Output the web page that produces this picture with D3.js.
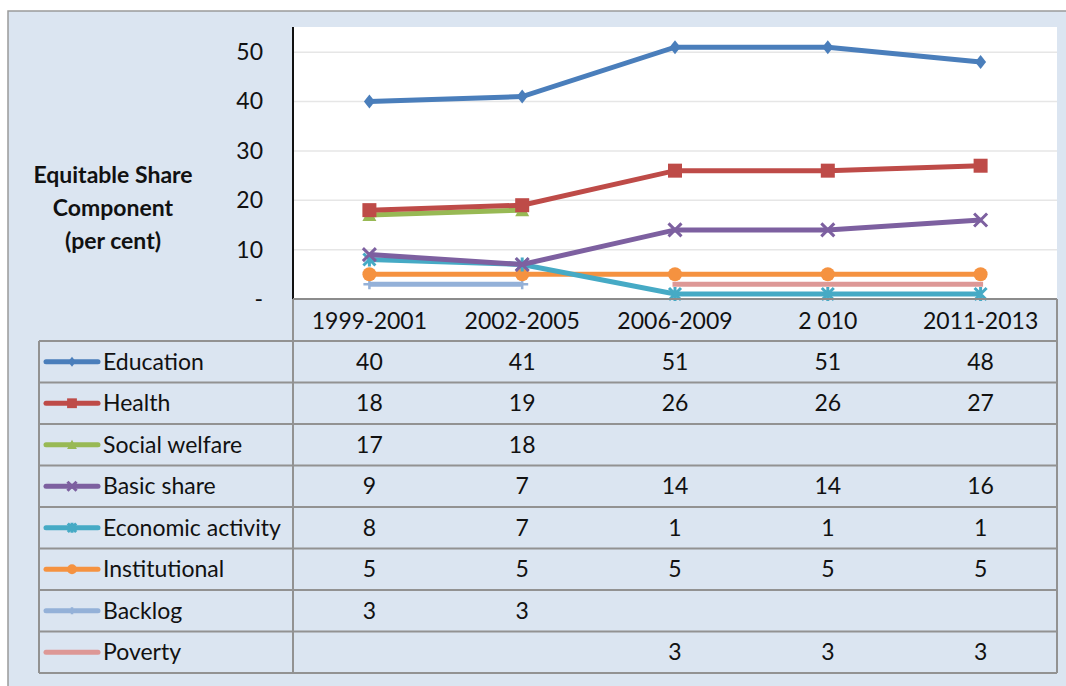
<!DOCTYPE html>
<html><head><meta charset="utf-8">
<script src="https://cdn.jsdelivr.net/npm/d3@7"></script>
<style>
body{margin:0;background:#fff;}
svg{display:block;font-family:Lato,"Open Sans",sans-serif;}
</style></head>
<body>
<svg id="c" width="1066" height="686"></svg>
<script>
const categories = ["1999-2001","2002-2005","2006-2009","2 010","2011-2013"];
const seriesNames = ["Education","Health","Social welfare","Basic share","Economic activity","Institutional","Backlog","Poverty"];
const education = [40,41,51,51,48];
const health = [18,19,26,26,27];
const socialWelfare = [17,18,null,null,null];
const basicShare = [9,7,14,14,16];
const economicActivity = [8,7,1,1,1];
const institutional = [5,5,5,5,5];
const backlog = [3,3,null,null,null];
const poverty = [null,null,3,3,3];
const yTicks = [0,10,20,30,40,50];
const yTickLabels = ["-","10","20","30","40","50"];
const yTitle = ["Equitable Share","Component","(per cent)"];

const seriesValues = [education,health,socialWelfare,basicShare,economicActivity,institutional,backlog,poverty];
const colors = ["#4a7ebb","#be4b48","#98b954","#7d60a0","#46aac5","#f59240","#94b1d8","#dd9896"];
const markers = ["diamond","square","triangle","x","asterisk","circle","plus","none"];

const FS = 23;
const svg = d3.select("#c");
// background
svg.append("rect").attr("x",8).attr("y",11).attr("width",1080).attr("height",690)
  .attr("fill","#dbe5f1").attr("stroke","#9a9a9a").attr("stroke-width",1.5);

const L=293, R=1057, T=27, B=299;
svg.append("rect").attr("x",L).attr("y",T).attr("width",R-L).attr("height",B-T).attr("fill","#ffffff");

const x = d3.scaleBand().domain(categories).range([L,R]);
const xc = c => x(c)+x.bandwidth()/2;
const y = d3.scaleLinear().domain([0,55]).range([B,T+0.5]);

// gridlines
svg.append("g").selectAll("line").data(yTicks.filter(d=>d>0)).join("line")
  .attr("x1",L).attr("x2",R).attr("y1",d=>y(d)).attr("y2",d=>y(d))
  .attr("stroke","#e6e6e6").attr("stroke-width",1.5);

// y axis
const yAxis = d3.axisLeft(y).tickValues(yTicks).tickFormat((d,i)=>yTickLabels[i]).tickSize(0).tickPadding(30);
const ga = svg.append("g").attr("transform",`translate(${L},0)`).call(yAxis);
ga.select(".domain").remove();
ga.selectAll("text").attr("font-size",FS).attr("fill","#111").attr("font-family","Lato,'Open Sans',sans-serif");
svg.append("line").attr("x1",L).attr("x2",L).attr("y1",T).attr("y2",B).attr("stroke","#111").attr("stroke-width",2);

// y title
svg.append("text").attr("x",113).attr("y",183).attr("text-anchor","middle")
  .attr("font-size",23).attr("font-weight","bold").attr("fill","#111")
  .selectAll("tspan").data(yTitle).join("tspan").attr("x",113).attr("dy",(d,i)=>i?33:0).text(d=>d);

// marker drawing
function drawMarker(g, type, color, s){
  s = s||1;
  if(type==="diamond") g.append("path").attr("d",`M0,${-7*s}L${5.5*s},0L0,${7*s}L${-5.5*s},0Z`).attr("fill",color);
  else if(type==="square") g.append("rect").attr("x",-7*s).attr("y",-7*s).attr("width",14*s).attr("height",14*s).attr("fill",color);
  else if(type==="triangle") g.append("path").attr("d",`M0,${-7*s}L${7*s},${6*s}L${-7*s},${6*s}Z`).attr("fill",color);
  else if(type==="circle") g.append("circle").attr("r",7*s).attr("fill",color);
  else if(type==="x") g.append("path").attr("d",`M${-6.5*s},${-6.5*s}L${6.5*s},${6.5*s}M${-6.5*s},${6.5*s}L${6.5*s},${-6.5*s}`).attr("stroke",color).attr("stroke-width",3);
  else if(type==="asterisk") g.append("path").attr("d",`M${-6*s},${-6*s}L${6*s},${6*s}M${-6*s},${6*s}L${6*s},${-6*s}M0,${-7*s}L0,${7*s}`).attr("stroke",color).attr("stroke-width",3);
  else if(type==="plus") g.append("path").attr("d",`M${-6*s},0L${6*s},0M0,${-5*s}L0,${5*s}`).attr("stroke",color).attr("stroke-width",2.5);
}

// lines (draw in reverse so education is on top)
const line = d3.line().defined(d=>d.v!=null).x(d=>xc(d.c)).y(d=>y(d.v));
const order = d3.range(seriesNames.length).reverse();
order.forEach(i=>{
  const data = categories.map((c,j)=>({c, v: seriesValues[i][j]}));
  svg.append("path").datum(data).attr("d",line).attr("fill","none")
    .attr("stroke",colors[i]).attr("stroke-width",5).attr("stroke-linecap", markers[i]==="none"?"square":"butt");
  data.filter(d=>d.v!=null).forEach(d=>{
    const g = svg.append("g").attr("transform",`translate(${xc(d.c)},${y(d.v)})`);
    drawMarker(g, markers[i], colors[i]);
  });
});

// x axis line
svg.append("line").attr("x1",L).attr("x2",R).attr("y1",B).attr("y2",B).attr("stroke","#8c8c8c").attr("stroke-width",2);

// table
const tL = 39, rowTop = 341, rowH = 41.5;
const gridColor = "#929292";
// header
svg.append("g").selectAll("text").data(categories).join("text")
  .attr("x",d=>xc(d)).attr("y",B+30).attr("text-anchor","middle").attr("font-size",FS).attr("fill","#111").text(d=>d);
svg.append("line").attr("x1",L).attr("x2",L).attr("y1",B).attr("y2",rowTop+rowH*8).attr("stroke",gridColor).attr("stroke-width",2);
svg.append("line").attr("x1",R).attr("x2",R).attr("y1",B).attr("y2",rowTop+rowH*8).attr("stroke",gridColor).attr("stroke-width",2);
svg.append("line").attr("x1",tL).attr("x2",tL).attr("y1",rowTop).attr("y2",rowTop+rowH*8).attr("stroke",gridColor).attr("stroke-width",2);
d3.range(9).forEach(r=>{
  svg.append("line").attr("x1",tL).attr("x2",R).attr("y1",rowTop+r*rowH).attr("y2",rowTop+r*rowH).attr("stroke",gridColor).attr("stroke-width",2);
});
seriesNames.forEach((name,i)=>{
  const cy = rowTop + i*rowH + rowH/2;
  svg.append("line").attr("x1",46).attr("x2",98).attr("y1",cy).attr("y2",cy).attr("stroke",colors[i]).attr("stroke-width",5).attr("stroke-linecap","round");
  const g = svg.append("g").attr("transform",`translate(72,${cy})`);
  drawMarker(g, markers[i], colors[i], 0.7);
  svg.append("text").attr("x",103).attr("y",cy+8).attr("font-size",FS).attr("fill","#111").text(name);
  categories.forEach((c,j)=>{
    const v = seriesValues[i][j];
    if(v!=null) svg.append("text").attr("x",xc(c)).attr("y",cy+8).attr("text-anchor","middle").attr("font-size",FS).attr("fill","#111").text(v);
  });
});
</script>
</body></html>
